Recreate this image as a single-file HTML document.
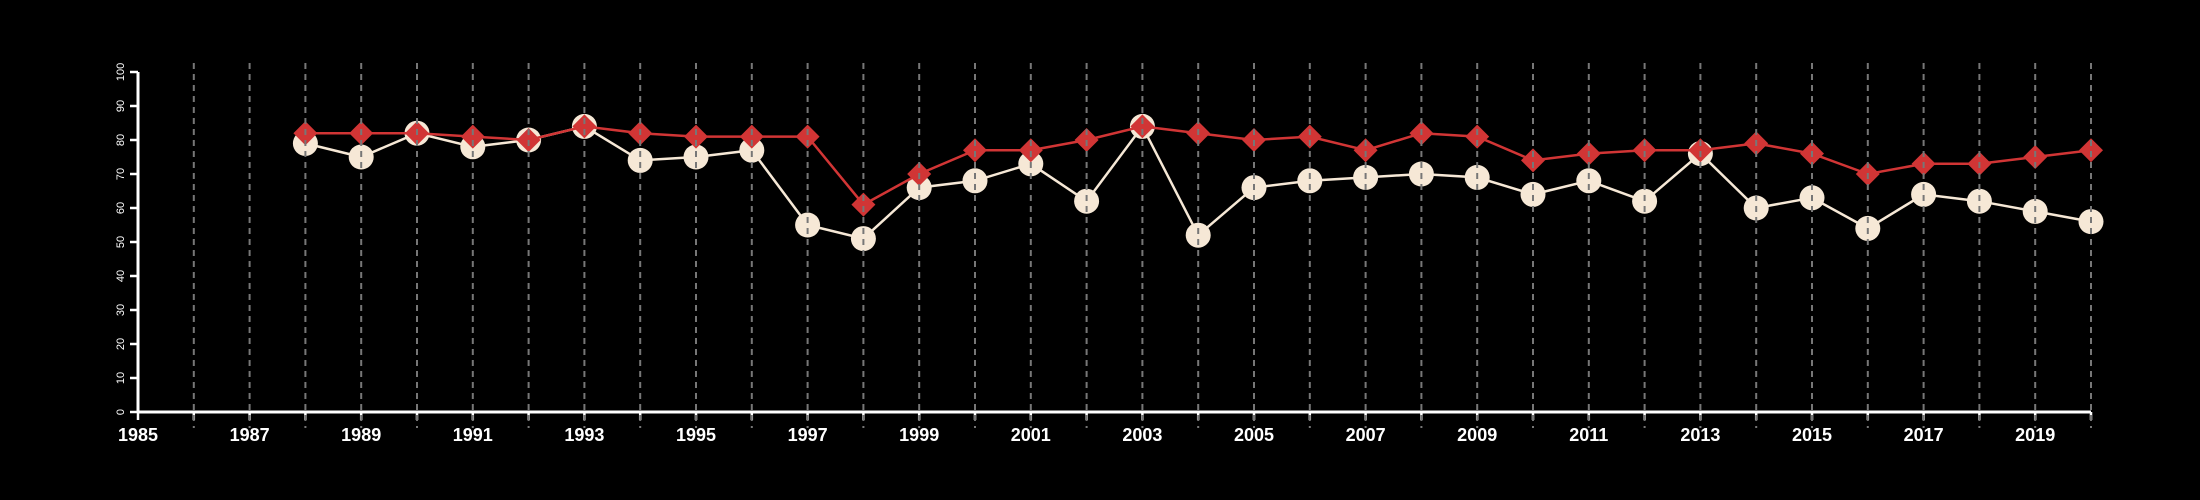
<!DOCTYPE html>
<html><head><meta charset="utf-8"><style>
html,body{margin:0;padding:0;background:#000;}
svg{display:block;font-family:"Liberation Sans",Arial,sans-serif;}
</style></head><body>
<svg id="chart" width="2200" height="500" viewBox="0 0 2200 500"></svg>
<script>
const years = [1988,1989,1990,1991,1992,1993,1994,1995,1996,1997,1998,1999,2000,2001,2002,2003,2004,2005,2006,2007,2008,2009,2010,2011,2012,2013,2014,2015,2016,2017,2018,2019,2020];
const seriesCream = [79,75,82,78,80,84,74,75,77,55,51,66,68,73,62,84,52,66,68,69,70,69,64,68,62,76,60,63,54,64,62,59,56];
const seriesRed = [82,82,82,81,80,84,82,81,81,81,61,70,77,77,80,84,82,80,81,77,82,81,74,76,77,77,79,76,70,73,73,75,77];
const yTicks = [0,10,20,30,40,50,60,70,80,90,100];
const xLabelYears = [1985,1987,1989,1991,1993,1995,1997,1999,2001,2003,2005,2007,2009,2011,2013,2015,2017,2019];

const NS='http://www.w3.org/2000/svg';
const svg=document.getElementById('chart');
const X0=138, X1=2091, Y0=412, Y1=72, xMin=1985, xMax=2020;
const xs=v=>X0+(v-xMin)/(xMax-xMin)*(X1-X0);
const ys=v=>Y0-v/100*(Y0-Y1);
function mk(tag,attrs,parent){const e=document.createElementNS(NS,tag);for(const k in attrs)e.setAttribute(k,attrs[k]);(parent||svg).appendChild(e);return e;}

const axes=mk('g',{});


mk('line',{x1:X0,y1:Y0,x2:X1,y2:Y0,stroke:'#fff','stroke-width':3},axes);
mk('line',{x1:X0,y1:Y0,x2:X0,y2:Y1,stroke:'#fff','stroke-width':3},axes);
yTicks.forEach(t=>{
  mk('line',{x1:X0-8,y1:ys(t),x2:X0,y2:ys(t),stroke:'#fff','stroke-width':2.5},axes);
  const tx=mk('text',{x:0,y:0,fill:'#fff','font-size':11,'text-anchor':'middle',transform:`translate(${X0-14},${ys(t)}) rotate(-90)`},axes);
  
  
  tx.textContent=t;
});
for(let yr=xMin;yr<=xMax;yr++){
  mk('line',{x1:xs(yr),y1:Y0,x2:xs(yr),y2:Y0+8,stroke:'#fff','stroke-width':2.5},axes);
}
xLabelYears.forEach(yr=>{
  const tx=mk('text',{x:xs(yr),y:441,fill:'#fff','font-size':18,'font-weight':'bold','text-anchor':'middle'},axes);
  
  
  tx.textContent=yr;
});

function drawSeries(vals,color,name,shape){
  const g=mk('g',{});
  
  
  mk('polyline',{points:years.map((y,i)=>xs(y)+','+ys(vals[i])).join(' '),fill:'none',stroke:color,'stroke-width':2.5},g);
  years.forEach((y,i)=>{
    const cx=xs(y),cy=ys(vals[i]);
    let m;
    if(shape==='circle') m=mk('circle',{cx:cx,cy:cy,r:12.5,fill:color},g);
    else m=mk('polygon',{points:`${cx},${cy-12} ${cx+12},${cy} ${cx},${cy+12} ${cx-12},${cy}`,fill:color},g);
    
    
  });
}
drawSeries(seriesCream,'#f6e8d6','cream-series','circle');
drawSeries(seriesRed,'#d13535','red-series','diamond');

const grid=mk('g',{});


for(let yr=xMin+1;yr<=xMax;yr++){
  mk('line',{x1:xs(yr),y1:63,x2:xs(yr),y2:428,stroke:'#777','stroke-width':2,'stroke-dasharray':'6,5'},grid);
}
</script>
</body></html>
